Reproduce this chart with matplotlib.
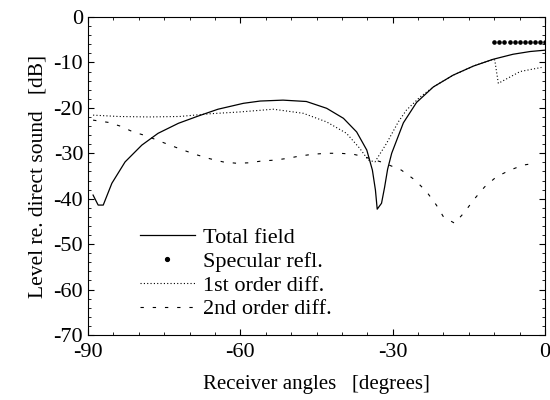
import numpy as np
import matplotlib
matplotlib.use('Agg')
import matplotlib.pyplot as plt
from matplotlib.ticker import MultipleLocator

plt.rcParams['font.family'] = ['Liberation Serif', 'DejaVu Serif']
plt.rcParams['axes.unicode_minus'] = False

# Total field
total_x = [-89.0, -88.0, -87.0, -85.3, -82.7, -79.4, -76.2, -72.2, -68.3, -64.4, -59.4,
           -56.1, -51.6, -47.0, -43.0, -39.7, -37.1, -35.1, -34.0, -33.4, -33.05,
           -32.2, -31.6, -31.0, -30.2, -29.0, -27.9, -25.3, -22.0, -18.1, -14.1,
           -10.2, -6.3, -2.95, 0.0]
total_y = [-39.2, -41.4, -41.4, -36.6, -31.9, -28.2, -25.6, -23.4, -21.8, -20.3, -19.0,
           -18.5, -18.3, -18.6, -20.1, -22.3, -25.3, -29.3, -33.7, -38.1, -42.3,
           -41.0, -37.5, -33.5, -30.0, -26.5, -23.3, -18.8, -15.4, -12.8, -10.8,
           -9.3, -8.2, -7.6, -7.3]

# Specular reflection
spec_x = [-10, -9, -8, -7, -6, -5, -4, -3, -2, -1, 0]
spec_y = [-5.5] * 11

# 1st order diffraction
diff1_x = [-89.0, -84.0, -78.0, -72.0, -66.0, -60.1, -53.5, -47.6, -43.0, -39.1, -36.5,
           -34.8, -33.5, -31.2, -28.9, -27.3, -24.6, -22.0, -18.1, -14.1, -10.2,
           -9.9, -9.2, -4.9, -0.7]
diff1_y = [-21.6, -21.9, -22.0, -21.9, -21.3, -20.9, -20.3, -21.2, -23.1, -25.6, -28.9,
           -31.5, -31.9, -27.8, -23.1, -20.5, -17.6, -15.4, -12.8, -10.8, -9.3,
           -9.5, -14.6, -12.0, -11.1]

# 2nd order diffraction
diff2_x = [-89.0, -86.0, -83.7, -81.1, -78.4, -76.2, -73.4, -71.0, -68.4, -66.0, -63.4,
           -60.7, -58.4, -55.8, -53.2, -50.6, -48.3, -45.6, -43.0, -40.4, -37.8,
           -35.5, -32.0, -28.3, -25.6, -23.3, -21.4, -20.0, -17.8, -15.8, -14.1,
           -11.9, -9.6, -6.9, -4.3, -2.0]
diff2_y = [-22.7, -23.2, -24.0, -25.3, -26.2, -27.2, -28.4, -29.4, -30.4, -31.2, -31.9,
           -32.2, -32.1, -31.7, -31.5, -31.1, -30.6, -30.2, -30.0, -30.0, -30.2,
           -30.8, -32.0, -33.7, -35.9, -38.5, -41.4, -44.0, -45.4, -42.9, -40.3,
           -37.4, -35.2, -33.7, -32.6, -32.2]

fig = plt.figure(figsize=(5.5, 4), dpi=100)
ax = fig.add_axes([0.16, 0.1625, 0.831, 0.795])

ax.plot(total_x, total_y, color='black', linewidth=0.9, label='Total field')
ax.plot(spec_x, spec_y, linestyle='none', marker='o', markersize=2.3,
        color='black', label='Specular refl.')
ax.plot(diff1_x, diff1_y, color='black', linewidth=0.8, linestyle=(0, (1, 2)),
        label='1st order diff.')
ax.plot(diff2_x, diff2_y, color='black', linewidth=0.8, linestyle=(0, (3, 8)),
        label='2nd order diff.')

ax.set_xlim(-90, 0)
ax.set_ylim(-70, 0)
ax.set_xticks([-90, -60, -30, 0])
ax.set_yticks(np.arange(-70, 1, 10))
ax.xaxis.set_minor_locator(MultipleLocator(5))
ax.yaxis.set_minor_locator(MultipleLocator(2))
ax.tick_params(which='both', direction='in', top=True, right=True, labelsize=16)
ax.tick_params(which='major', length=4)
ax.tick_params(which='minor', length=2)
ax.tick_params(axis='x', pad=6)

ax.set_xlabel('Receiver angles   [degrees]', fontsize=15, labelpad=9)
ax.set_ylabel('Level re. direct sound   [dB]', fontsize=15.5, labelpad=4)

ax.legend(loc='lower left', bbox_to_anchor=(0.079, 0.0), frameon=False, fontsize=16,
          handlelength=2.5, labelspacing=0.15, handletextpad=0.35, markerscale=1.2,
          borderpad=0.2)

fig.savefig('out.png', dpi=100)
